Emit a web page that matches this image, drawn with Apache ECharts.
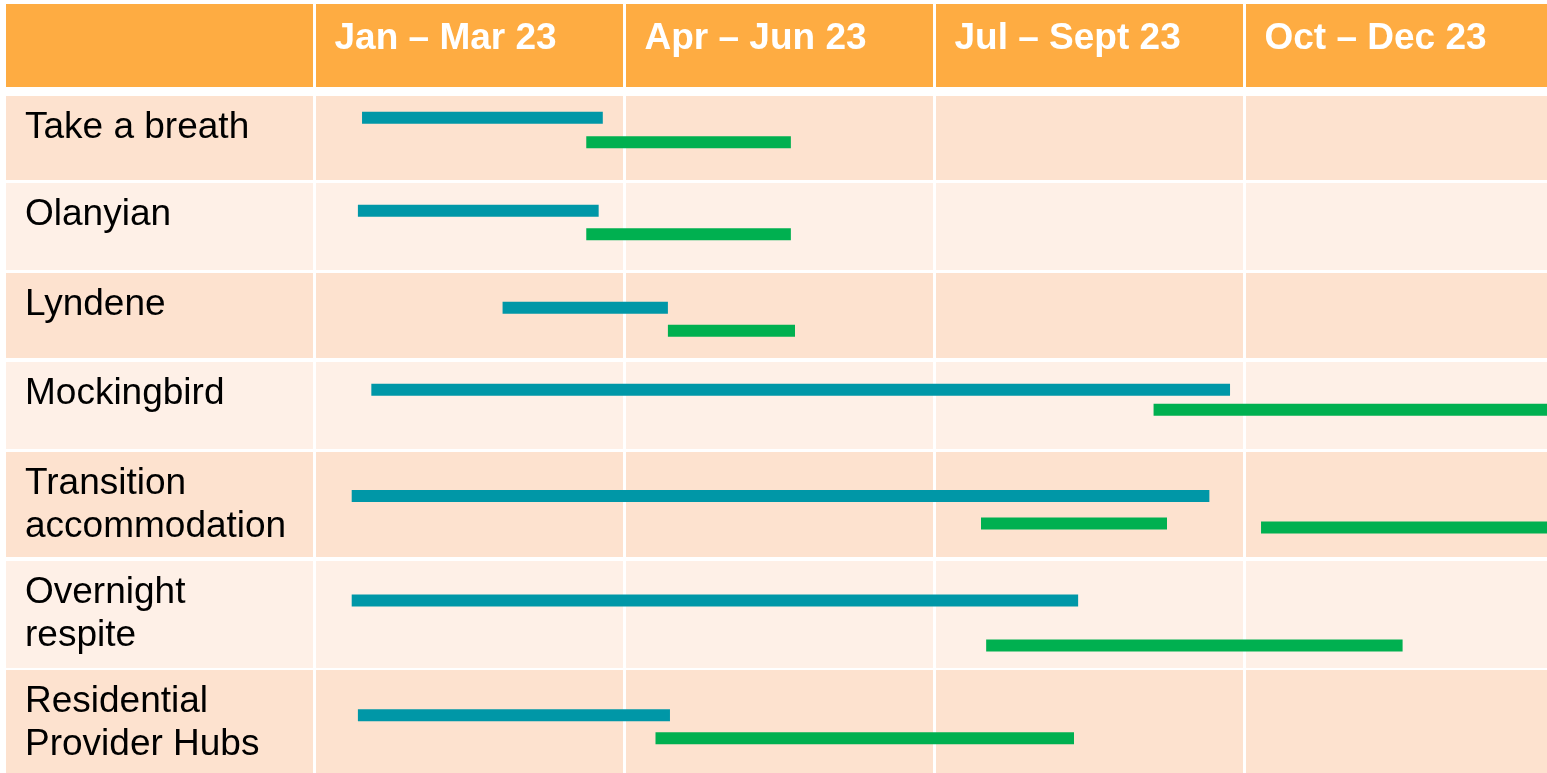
<!DOCTYPE html>
<html>
<head>
<meta charset="utf-8">
<script src="https://cdn.jsdelivr.net/npm/echarts@6/dist/echarts.min.js"></script>
<style>
  html, body { margin: 0; padding: 0; background: #fff; }
  #chart { width: 1547px; height: 773px; }
</style>
</head>
<body>
<div id="chart"></div>
<script>
// rows of the plan
const projects = [
  'Take a breath',
  'Olanyian',
  'Lyndene',
  'Mockingbird',
  'Transition\naccommodation',
  'Overnight\nrespite',
  'Residential\nProvider Hubs'
]
const quarters = ['Jan – Mar 23', 'Apr – Jun 23', 'Jul – Sept 23', 'Oct – Dec 23']

// months from 1 Jan 2023: [row, start, end, lane in row (0 top .. 1 bottom)]
const tealBars = [
  [0, 0.46, 2.79, 0.26],
  [1, 0.42, 2.75, 0.32],
  [2, 1.82, 3.42, 0.41],
  [3, 0.55, 8.86, 0.32],
  [4, 0.36, 8.66, 0.42],
  [5, 0.36, 7.39, 0.37],
  [6, 0.42, 3.44, 0.43]
]
const greenBars = [
  [0, 2.63, 4.61, 0.55],
  [1, 2.63, 4.61, 0.59],
  [2, 3.42, 4.65, 0.68],
  [3, 8.12, 12, 0.55],
  [4, 6.45, 8.25, 0.68],
  [4, 9.16, 12, 0.72],
  [5, 6.50, 10.53, 0.79],
  [6, 3.30, 7.35, 0.65]
]

// layout (px): header box and one box per row [top, height]
const headerBox = [4, 83]
const rowBoxes = [[96, 84], [183, 87], [273, 85], [362, 87], [452, 105], [561, 107], [670, 105]]

const ORANGE = '#FEAC42'
const PEACH = '#FDE2CF'
const CREAM = '#FEF0E7'
const TEAL = '#0097A7'
const GREEN = '#00B050'
const FONT = '"Liberation Sans", Arial, sans-serif'

const boxes = [headerBox].concat(rowBoxes)

// the last quarter runs a little past the right edge of the page
const grid = boxes.map(([top, height], i) => ({
  left: 4.5,
  width: 1550,
  top: top,
  height: height,
  outerBoundsMode: 'none',
  show: true,
  borderWidth: 0,
  backgroundColor: i === 0 ? ORANGE : (i % 2 ? PEACH : CREAM)
}))

// label column is the band -3..0, the quarters are 0..12
const xAxis = boxes.map((b, i) => ({
  gridIndex: i,
  type: 'value',
  min: -3,
  max: 12,
  interval: 3,
  axisLine: { show: false },
  axisTick: { show: false },
  axisLabel: { show: false },
  splitLine: { show: true, lineStyle: { color: '#fff', width: 3 } }
}))

const yAxis = boxes.map((b, i) => ({
  gridIndex: i,
  type: 'value',
  min: 0,
  max: 1,
  inverse: true,
  show: false
}))

const series = []

// header texts
series.push({
  type: 'custom',
  xAxisIndex: 0,
  yAxisIndex: 0,
  data: quarters.map((q, i) => [i * 3, 0.42]),
  renderItem: function (params, api) {
    const p = api.coord([api.value(0), api.value(1)])
    return {
      type: 'text',
      x: p[0] + 20,
      y: p[1],
      style: {
        text: quarters[params.dataIndex],
        font: 'bold 37px ' + FONT,
        fill: '#fff',
        align: 'left',
        verticalAlign: 'middle'
      }
    }
  }
})

projects.forEach((name, r) => {
  // row label
  series.push({
    type: 'custom',
    xAxisIndex: r + 1,
    yAxisIndex: r + 1,
    data: [[-3, 0]],
    renderItem: function (params, api) {
      const p = api.coord([api.value(0), api.value(1)])
      return {
        type: 'text',
        x: p[0] + 20.5,
        y: p[1] + 10,
        style: {
          text: name,
          font: '37px ' + FONT,
          lineHeight: 43,
          fill: '#000',
          align: 'left',
          verticalAlign: 'top'
        }
      }
    }
  })

  // bars of this row
  const items = tealBars.filter(b => b[0] === r).map(b => [b[1], b[2], b[3], 0])
    .concat(greenBars.filter(b => b[0] === r).map(b => [b[1], b[2], b[3], 1]))
  series.push({
    type: 'custom',
    xAxisIndex: r + 1,
    yAxisIndex: r + 1,
    encode: { x: [0, 1], y: 2 },
    data: items,
    renderItem: function (params, api) {
      const a = api.coord([api.value(0), api.value(2)])
      const b = api.coord([api.value(1), api.value(2)])
      return {
        type: 'rect',
        shape: { x: a[0], y: a[1] - 6, width: b[0] - a[0], height: 12 },
        style: { fill: api.value(3) === 0 ? TEAL : GREEN }
      }
    }
  })
})

const chart = echarts.init(document.getElementById('chart'))
chart.setOption({
  animation: false,
  backgroundColor: '#fff',
  grid: grid,
  xAxis: xAxis,
  yAxis: yAxis,
  series: series
})
</script>
</body>
</html>
